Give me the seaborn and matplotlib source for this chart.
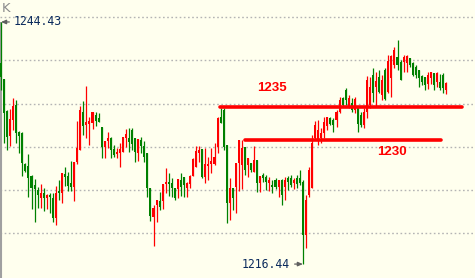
import numpy as np
import pandas as pd
import matplotlib
matplotlib.use("Agg")
import matplotlib.pyplot as plt
import seaborn as sns

# ---------------- data ----------------
opens = [1239.69, 1237.84, 1234.14, 1231.25, 1233.10, 1234.83, 1231.71, 1231.59, 1228.01, 1227.78,
         1226.62, 1225.58, 1225.00, 1224.08, 1224.66, 1224.08, 1224.43, 1224.08, 1221.77, 1224.89,
         1224.66, 1226.85, 1226.62, 1225.81, 1225.35, 1228.24, 1229.63, 1234.02, 1232.52, 1232.63,
         1232.75, 1233.68, 1233.33, 1232.29, 1229.97, 1230.67, 1231.02, 1229.74, 1229.17, 1229.28,
         1229.40, 1231.02, 1231.02, 1231.94, 1231.02, 1229.28, 1230.78, 1230.09, 1229.28, 1225.24,
         1221.88, 1223.27, 1223.73, 1223.73, 1225.70, 1225.93, 1225.81, 1225.24, 1225.12, 1226.16,
         1226.51, 1225.24, 1225.70, 1226.62, 1227.66, 1229.28, 1229.74, 1226.51, 1227.78, 1228.01,
         1228.01, 1229.97, 1233.44, 1234.25, 1230.21, 1223.50, 1225.24, 1225.35, 1228.13, 1227.89,
         1229.97, 1227.89, 1228.13, 1227.08, 1228.47, 1225.81, 1226.74, 1226.51, 1225.81, 1225.58,
         1226.16, 1225.35, 1226.16, 1225.35, 1226.39, 1226.39, 1225.81, 1226.39, 1226.39, 1225.93,
         1219.80, 1224.43, 1225.24, 1231.02, 1230.78, 1231.02, 1231.59, 1232.40, 1233.33, 1233.10,
         1233.10, 1234.02, 1235.64, 1236.57, 1234.72, 1235.06, 1234.25, 1234.60, 1233.68, 1232.52,
         1234.02, 1234.83, 1238.30, 1236.91, 1238.07, 1235.99, 1238.88, 1236.33, 1237.95, 1239.45,
         1240.38, 1239.80, 1239.80, 1239.69, 1240.26, 1239.69, 1239.22, 1238.88, 1238.18, 1238.07,
         1237.26, 1237.95, 1238.53, 1237.49, 1237.49, 1238.30, 1236.57]
highs = [1244.43, 1237.84, 1234.25, 1234.37, 1235.64, 1235.41, 1231.82, 1231.71, 1228.13, 1229.17,
         1226.74, 1226.28, 1225.35, 1225.70, 1225.24, 1224.54, 1224.66, 1224.66, 1225.47, 1226.16,
         1226.97, 1227.66, 1227.08, 1228.36, 1228.24, 1232.98, 1234.72, 1235.29, 1237.03, 1233.44,
         1234.02, 1234.02, 1233.91, 1232.29, 1230.67, 1231.71, 1231.13, 1230.21, 1229.86, 1230.44,
         1231.13, 1232.06, 1232.17, 1232.17, 1231.02, 1230.90, 1231.13, 1230.67, 1229.28, 1225.24,
         1223.27, 1223.85, 1224.77, 1225.70, 1227.55, 1226.97, 1226.39, 1225.24, 1226.28, 1226.97,
         1226.51, 1225.93, 1226.74, 1228.70, 1230.09, 1230.09, 1229.74, 1229.86, 1228.82, 1229.86,
         1230.44, 1233.44, 1234.48, 1234.48, 1230.21, 1226.39, 1225.24, 1228.13, 1230.78, 1230.78,
         1229.97, 1228.70, 1228.13, 1230.09, 1228.47, 1226.62, 1226.97, 1226.74, 1226.51, 1226.16,
         1226.39, 1226.16, 1226.28, 1226.51, 1226.62, 1226.74, 1226.39, 1226.74, 1227.32, 1226.16,
         1224.43, 1227.66, 1231.36, 1232.98, 1233.10, 1232.17, 1233.44, 1233.44, 1233.44, 1233.33,
         1234.25, 1235.76, 1235.76, 1236.80, 1235.99, 1235.64, 1235.76, 1234.60, 1234.02, 1234.48,
         1238.18, 1238.07, 1239.11, 1238.65, 1238.88, 1238.30, 1239.11, 1240.61, 1240.61, 1241.54,
         1242.35, 1240.03, 1240.61, 1240.61, 1240.26, 1239.80, 1239.45, 1238.88, 1238.30, 1238.07,
         1238.65, 1238.65, 1238.53, 1238.65, 1238.41, 1238.53, 1237.49]
lows = [1236.57, 1230.44, 1229.63, 1230.09, 1231.94, 1230.44, 1229.28, 1226.62, 1227.08, 1224.20,
        1222.81, 1221.31, 1222.92, 1222.92, 1222.58, 1222.81, 1222.35, 1221.31, 1220.96, 1223.85,
        1223.50, 1225.47, 1224.89, 1224.89, 1223.73, 1228.01, 1229.63, 1231.36, 1231.02, 1230.21,
        1232.06, 1232.40, 1232.87, 1228.70, 1228.70, 1229.86, 1228.70, 1228.82, 1228.70, 1227.66,
        1229.40, 1229.97, 1229.40, 1229.63, 1228.24, 1228.36, 1229.28, 1228.24, 1224.20, 1221.42,
        1218.53, 1221.31, 1222.69, 1222.81, 1224.66, 1224.31, 1224.20, 1223.85, 1224.08, 1224.31,
        1224.20, 1224.20, 1225.24, 1226.62, 1227.66, 1228.24, 1226.39, 1225.81, 1226.16, 1226.97,
        1227.89, 1229.28, 1232.75, 1229.63, 1221.19, 1221.54, 1222.69, 1222.35, 1224.89, 1225.12,
        1226.74, 1226.51, 1227.08, 1227.08, 1224.77, 1224.77, 1225.93, 1225.00, 1224.89, 1224.66,
        1225.12, 1224.20, 1223.27, 1223.85, 1225.00, 1225.35, 1225.12, 1225.24, 1225.58, 1216.44,
        1218.30, 1224.20, 1225.24, 1230.78, 1230.21, 1230.44, 1231.02, 1231.94, 1232.52, 1231.71,
        1232.29, 1233.91, 1234.60, 1234.83, 1234.48, 1234.02, 1233.91, 1231.71, 1232.29, 1232.17,
        1233.33, 1234.48, 1235.18, 1234.60, 1236.22, 1235.41, 1235.41, 1236.22, 1235.76, 1239.11,
        1238.88, 1237.72, 1238.65, 1238.65, 1239.22, 1238.18, 1237.95, 1236.91, 1237.14, 1236.57,
        1236.68, 1237.26, 1236.57, 1236.91, 1236.57, 1236.22, 1236.10]
closes = [1238.07, 1233.91, 1231.13, 1233.21, 1234.72, 1231.59, 1231.25, 1228.13, 1227.20, 1226.39,
          1225.24, 1225.12, 1224.43, 1224.66, 1224.08, 1224.43, 1224.20, 1221.77, 1224.66, 1224.66,
          1226.97, 1226.51, 1225.47, 1225.35, 1228.24, 1229.86, 1234.25, 1232.40, 1232.87, 1232.98,
          1234.02, 1232.98, 1232.87, 1229.97, 1230.67, 1231.02, 1229.63, 1229.05, 1229.40, 1229.74,
          1231.13, 1231.48, 1230.55, 1230.32, 1229.40, 1230.90, 1230.09, 1228.82, 1225.24, 1222.00,
          1222.92, 1223.85, 1223.04, 1225.70, 1225.93, 1225.70, 1225.24, 1224.08, 1226.28, 1225.35,
          1225.58, 1225.81, 1226.62, 1228.59, 1229.51, 1229.63, 1226.51, 1228.01, 1228.01, 1228.36,
          1228.82, 1233.33, 1232.75, 1229.97, 1223.50, 1225.24, 1224.08, 1228.13, 1230.78, 1229.86,
          1227.32, 1228.70, 1227.32, 1228.47, 1225.81, 1226.62, 1226.39, 1225.93, 1226.16, 1225.35,
          1225.35, 1226.16, 1224.43, 1226.16, 1225.93, 1225.58, 1226.16, 1225.70, 1225.81, 1219.80,
          1223.85, 1227.32, 1230.44, 1232.52, 1231.94, 1231.59, 1232.87, 1233.44, 1232.63, 1232.52,
          1234.02, 1235.41, 1234.83, 1235.41, 1235.64, 1234.25, 1235.52, 1232.63, 1232.52, 1234.02,
          1237.72, 1236.91, 1236.22, 1237.61, 1236.33, 1237.72, 1235.52, 1239.92, 1240.50, 1241.19,
          1239.45, 1237.72, 1240.38, 1240.50, 1239.45, 1238.30, 1238.30, 1237.95, 1237.49, 1237.14,
          1238.30, 1238.65, 1237.14, 1238.53, 1236.80, 1236.80, 1237.37]

grid_levels = [1220, 1225, 1230, 1235, 1240, 1245]
line_labels = ["1235", "1230"]
line_levels = [1234.60, 1230.79]
line_start = [71.8, 80.0]
line_end = [151.1, 144.3]
label_pos = [(88.9, 1236.8), (128.2, 1229.4)]
high_label = "1244.43"
low_label = "1216.44"
corner_label = "K"

# ---------------- figure ----------------
sns.set_theme(style="white")
plt.rcParams['font.family'] = ['DejaVu Sans']

W, H, DPI = 475, 278, 100
fig = plt.figure(figsize=(W / DPI, H / DPI), dpi=DPI)
bg = "#FFFFEE"
fig.patch.set_facecolor(bg)
ax = fig.add_axes([0, 0, 1, 1])
ax.set_facecolor(bg)

df = pd.DataFrame({"o": opens, "h": highs, "l": lows, "c": closes})
df["i"] = np.arange(len(df))
up = df["c"] >= df["o"]
cols = np.where(up, "#FF0000", "#008000")

px = 3.05  # pixel per candle
ax.set_xlim(-1 / px, (W - 1) / px)
ax.set_ylim(1214.83, 1246.97)

# grid
for g in grid_levels:
    ax.axhline(g, color="#B4B4B4", lw=1.0, linestyle=(0, (1.2, 1.8)), zorder=1)

# left gray line from high
ax.vlines(0, ax.get_ylim()[0], df["h"].iloc[0], color="#A0A0A0", lw=1.5, zorder=2)

# wicks
ax.vlines(df["i"], df["l"], df["h"], colors=cols, lw=0.9, zorder=3)
# bodies
body = (df["c"] - df["o"]).abs().clip(lower=0.13)
bottom = np.minimum(df["o"], df["c"])
ax.bar(df["i"], body, bottom=bottom, width=0.68, color=cols, linewidth=0, zorder=4)

# red annotation lines
ldf = pd.DataFrame({"x": line_start + line_end,
                    "y": line_levels + line_levels,
                    "g": line_labels + line_labels})
sns.lineplot(data=ldf, x="x", y="y", units="g", estimator=None, color="#FF0000",
             lw=2.6, ax=ax, zorder=5, legend=False)
for lab, (x, y) in zip(line_labels, label_pos):
    ax.text(x, y, lab, color="#FF0000", fontsize=9.5, fontweight="bold",
            family="Liberation Sans", ha="center", va="center", zorder=6)

# high / low labels
arrow = dict(arrowstyle="-|>,head_length=0.35,head_width=0.15", color="#606060",
             lw=0.9, shrinkA=1, shrinkB=0)
ax.annotate(high_label, xy=(0, df["h"].iloc[0]), xytext=(13, 0), textcoords="offset pixels",
            ha="left", va="center", color="#0A2A5C", fontsize=8.3, family="DejaVu Sans Mono",
            arrowprops=arrow, zorder=7)
il = int(df["l"].idxmin())
ax.annotate(low_label, xy=(il, df["l"].iloc[il]), xytext=(-13, 0), textcoords="offset pixels",
            ha="right", va="center", color="#0A2A5C", fontsize=8.3, family="DejaVu Sans Mono",
            arrowprops=arrow, zorder=7)

fig.text(2 / W, 1 - 2 / H, corner_label, color="#8C8C8C", fontsize=9.5, ha="left", va="top")

ax.set_xticks([])
ax.set_yticks([])
for s in ax.spines.values():
    s.set_visible(False)
ax.set_xlabel("")
ax.set_ylabel("")

fig.savefig("out.png", dpi=DPI, facecolor=bg)
